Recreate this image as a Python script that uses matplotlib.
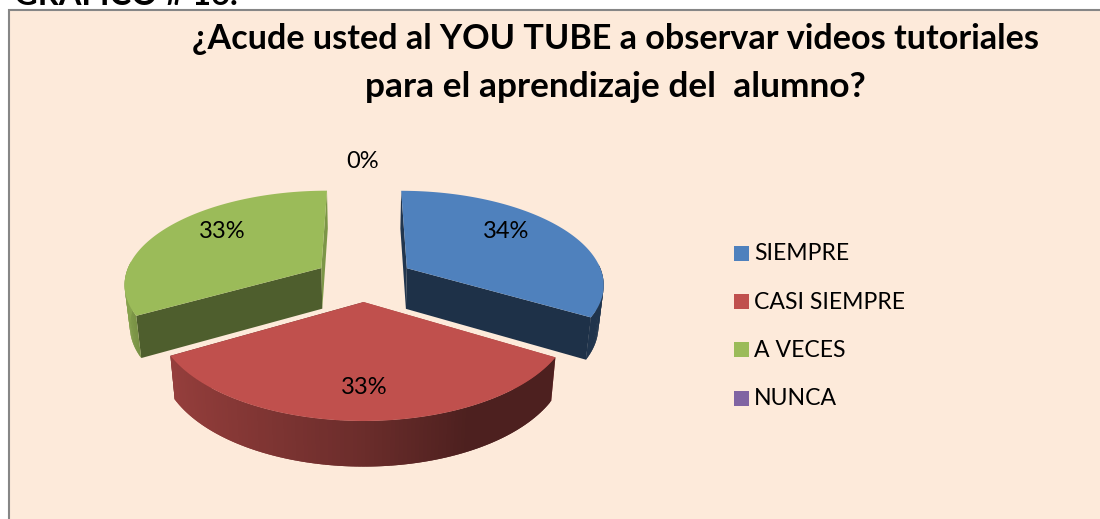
import numpy as np
import matplotlib
matplotlib.use('Agg')
import matplotlib.pyplot as plt
from matplotlib.patches import Polygon, Rectangle

plt.rcParams['font.family'] = ['Lato', 'DejaVu Sans']

# Data -------------------------------------------------------------------

categories = ['SIEMPRE', 'CASI SIEMPRE', 'A VECES', 'NUNCA']
values = [33.5, 33.25, 33.25, 0]  # labels round these to 34 / 33 / 33 / 0
pct_labels = ['34%', '33%', '33%', '0%']
top_colors = ['#4F81BD', '#C0504D', '#9BBB59', '#8064A2']
title_lines = ['¿Acude usted al YOU TUBE a observar videos tutoriales',
               'para el aprendizaje del  alumno?']

# Pie geometry (pixels of the picture) -----------------------------------

W, H = 1100, 519
cx, cy = 364, 279
rx, ry = 197, 92.5
persp = 0.155
explode_x = 0.255
explode_y = 0.24
depth = 41
bottom_shrink = 0.978
label_pos = [(506, 231), (364, 387), (222, 231), (363, 161)]


def project(u, v, low=False):
    s = 1 / (1 + persp * v)
    x = rx * u * s
    y = ry * v * s
    if low:
        return cx + x * bottom_shrink, cy - y + depth * np.sqrt(s)
    return cx + x, cy - y


def shade(color, f):
    return tuple(c * f for c in matplotlib.colors.to_rgb(color))


def side_factor(nx):
    return np.interp(nx, [-1, -0.87, 0, 0.45, 1], [0.88, 0.78, 0.56, 0.40, 0.40])


# Figure -----------------------------------------------------------------

fig = plt.figure(figsize=(W / 100, H / 100), dpi=100, facecolor='white')
ax = fig.add_axes([0, 0, 1, 1])
ax.set_xlim(0, W)
ax.set_ylim(H, 0)
ax.axis('off')

ax.add_patch(Rectangle((9, 10), W + 20, H + 20, fc='#FDEADA', ec='#868686', lw=1.5))
ax.text(14, 5, 'GRAFICO # 16.', fontsize=23.5, fontweight='bold', va='baseline', ha='left', color='black')

for y, line, size in zip([39, 87], title_lines, [24.6, 25.4]):
    ax.text(615, y, line, fontsize=size, fontweight='bold', ha='center', va='center', color='black')

total = sum(values)
start = 0.0
for val, col in zip(values, top_colors):
    if val == 0:
        continue
    end = start + 360 * val / total
    mid = np.radians((start + end) / 2)
    du, dv = explode_x * np.sin(mid), explode_y * np.cos(mid)
    th = np.radians(np.linspace(start, end, 121))
    us, vs = du + np.sin(th), dv + np.cos(th)

    # cut faces
    for t, f in ((th[0], 0.42 if col == top_colors[0] else 0.8), (th[-1], 0.38 if col == top_colors[0] else 0.5)):
        if col == top_colors[2]:
            f = 0.5 if t == th[0] else 0.8
        u1, v1 = du + np.sin(t), dv + np.cos(t)
        pts = [project(du, dv), project(u1, v1), project(u1, v1, True), project(du, dv, True)]
        ax.add_patch(Polygon(pts, fc=shade(col, f), ec='none'))

    # outer wall, small strips so the shading runs along it
    for i in range(len(th) - 1):
        if np.cos((th[i] + th[i + 1]) / 2) > 0.05:
            continue
        j = min(i + 2, len(th) - 1)  # overlap the next strip, no seams
        pts = [project(us[i], vs[i]), project(us[j], vs[j]),
               project(us[j], vs[j], True), project(us[i], vs[i], True)]
        fc = shade(col, side_factor(np.sin(th[i])))
        ax.add_patch(Polygon(pts, fc=fc, ec='none'))

    # top
    pts = [project(du, dv)] + [project(a, b) for a, b in zip(us, vs)]
    ax.add_patch(Polygon(pts, fc=col, ec='none'))
    start = end

for (x, y), txt in zip(label_pos, pct_labels):
    ax.text(x, y + 1, txt, fontsize=17, ha='center', va='center', color='black')

# Legend
for i, (name, col) in enumerate(zip(categories, top_colors)):
    y = 253.5 + 48.2 * i
    ax.add_patch(Rectangle((734, y - 7.5), 15, 15, fc=col, ec='none'))
    ax.text(754, y + 0.5, name, fontsize=16.6, ha='left', va='center', color='black')

fig.savefig('out.png', dpi=100)
